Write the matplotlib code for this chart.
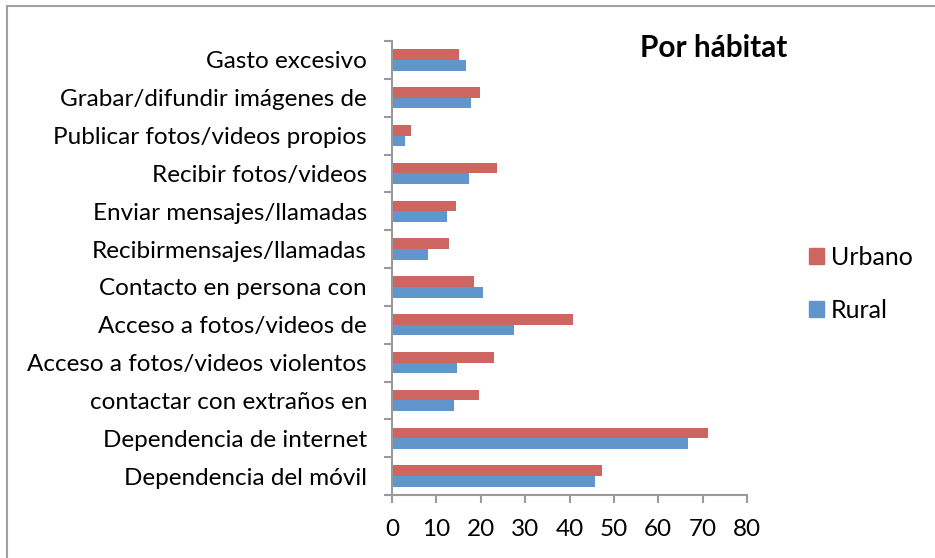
import matplotlib
matplotlib.use("Agg")
import matplotlib.pyplot as plt
from matplotlib.lines import Line2D
from matplotlib.patches import Patch
import numpy as np

categories = [
    "Dependencia del móvil",
    "Dependencia de internet",
    "contactar con extraños en",
    "Acceso a fotos/videos violentos",
    "Acceso a fotos/videos de",
    "Contacto en persona con",
    "Recibirmensajes/llamadas",
    "Enviar mensajes/llamadas",
    "Recibir fotos/videos",
    "Publicar fotos/videos propios",
    "Grabar/difundir imágenes de",
    "Gasto excesivo",
]
urbano = [47.4, 71.3, 19.6, 23.0, 40.9, 18.4, 12.9, 14.4, 23.6, 4.2, 19.8, 15.0]
rural = [45.8, 66.7, 13.9, 14.7, 27.5, 20.5, 8.0, 12.5, 17.4, 2.9, 17.8, 16.6]
xticks = [0, 10, 20, 30, 40, 50, 60, 70, 80]

c_urb = "#CD6560"
c_rur = "#6196CC"
grey = "#9A9A9A"
FONT = "Lato"
FS = 17.5

fig = plt.figure(figsize=(9.35, 5.58), dpi=100)
ax = fig.add_axes([392/935, 1-495/558, (747-392)/935, (495-41)/558])

y = np.arange(len(categories))
h = 0.28
ax.barh(y + h/2, urbano, height=h, color=c_urb, label="Urbano")
ax.barh(y - h/2, rural, height=h, color=c_rur, label="Rural")

ax.set_xlim(0, 80)
ax.set_ylim(-0.5, len(categories) - 0.5)
ax.set_xticks(xticks)
ax.set_xticklabels([str(t) for t in xticks], fontfamily=FONT, fontsize=FS)
ax.set_yticks(np.arange(len(categories) + 1) - 0.5)
ax.set_yticklabels([])
ax.set_yticks(y, minor=True)
ax.set_yticklabels(categories, minor=True, fontfamily=FONT, fontsize=FS)
ax.tick_params(axis="y", which="minor", length=0, pad=18)
ax.tick_params(axis="y", which="major", length=6, width=1.5, color=grey, direction="out")
ax.tick_params(axis="x", length=6, width=1.5, color=grey, direction="out", pad=11)

for s in ["top", "right"]:
    ax.spines[s].set_visible(False)
for s in ["left", "bottom"]:
    ax.spines[s].set_color(grey)
    ax.spines[s].set_linewidth(1.5)

fig.text(640/935, 1-48/558, "Por hábitat", fontfamily=FONT, fontsize=21.4,
         fontweight="bold", va="center", ha="left")

handles = [Patch(color=c_urb), Patch(color=c_rur)]
fig.legend(handles, ["Urbano", "Rural"], loc="center left",
           bbox_to_anchor=(809/935, 1-284/558), frameon=False, borderpad=0,
           borderaxespad=0,
           prop={"family": FONT, "size": 18}, handlelength=0.58, handleheight=0.58,
           handletextpad=0.3, labelspacing=1.2)

# outer frame
fig.add_artist(Line2D([7/935, 7/935], [0, 1-6/558], color="#A0A0A0", lw=1.5,
                      transform=fig.transFigure))
fig.add_artist(Line2D([7/935, 1], [1-6/558, 1-6/558], color="#A0A0A0", lw=1.5,
                      transform=fig.transFigure))

fig.savefig("out.png", dpi=100)
